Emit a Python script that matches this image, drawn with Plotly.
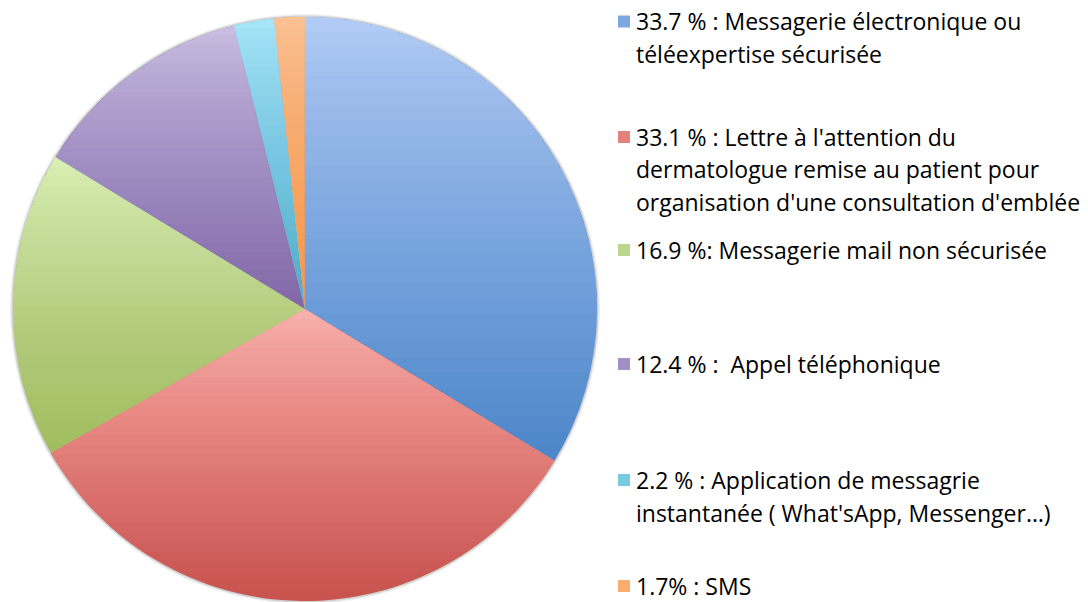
import math
import plotly.graph_objects as go

# ---------------- data ----------------
categories = ["Messagerie électronique ou téléexpertise sécurisée",
              "Lettre au patient",
              "Messagerie mail non sécurisée",
              "Appel téléphonique",
              "Application de messagerie instantanée",
              "SMS"]
values = [33.7, 33.1, 16.9, 12.4, 2.2, 1.7]
legend_labels = [
    "33.7 % : Messagerie électronique ou<br>téléexpertise sécurisée",
    "33.1 % : Lettre à l'attention du<br>dermatologue remise au patient pour<br>organisation d'une consultation d'emblée",
    "16.9 %: Messagerie mail non sécurisée",
    "12.4 % :\u00a0 Appel téléphonique",
    "2.2 % : Application de messagrie<br>instantanée ( What'sApp, Messenger…)",
    "1.7% : SMS",
]
# gradient colours (top, bottom) per slice
top_colors = ["#b0cbf6", "#f9afab", "#d9eeb2", "#c9bbe2", "#a6e4f8", "#fcc192"]
bottom_colors = ["#4a85c9", "#c8504b", "#9ebd5e", "#8064a6", "#4bacc6", "#f79646"]
legend_colors = ["#7ea6e0", "#e2807c", "#bcd690", "#a48fc4", "#79c9e0", "#f9ad6e"]

# ---------------- layout constants ----------------
OFF = 0                      # body margin removed by post_script
W, H = 1088, 602
CX, CY, R = 305.0, 309.0, 292.0          # pie centre / radius in page pixels
legend_y_px = [21.5, 137, 250, 364, 480, 586]
line_gap = 32.5
font_family = "'Open Sans', Lato, sans-serif"
font_size = 23

def px2paper(x, y):
    return (x - OFF) / W, 1 - (y - OFF) / H

fig = go.Figure()
dx0, dy0 = px2paper(CX - R, CY + R)
dx1, dy1 = px2paper(CX + R, CY - R)
fig.add_trace(go.Pie(
    labels=categories, values=values, sort=False, direction="clockwise",
    rotation=0, textinfo="none", hole=0,
    marker=dict(colors=bottom_colors, line=dict(width=0)),
    domain=dict(x=[max(0, dx0), dx1], y=[max(0, dy0), min(1, dy1)]),
    showlegend=False,
))

shapes = []
# soft shadow under the pie
for extra, alpha in [(3.0, 0.06), (1.6, 0.12)]:
    x0, y0 = px2paper(CX - R - extra, CY + R + extra)
    x1, y1 = px2paper(CX + R + extra, CY - R - extra)
    shapes.append(dict(type="circle", xref="paper", yref="paper", x0=x0, y0=y0,
                       x1=x1, y1=y1, layer="below", line=dict(width=0),
                       fillcolor=f"rgba(0,0,0,{alpha})"))

def clip_below(poly, Y):
    out = []
    n = len(poly)
    for i in range(n):
        p, q = poly[i], poly[(i + 1) % n]
        pin, qin = p[1] <= Y, q[1] <= Y
        if pin:
            out.append(p)
        if pin != qin:
            t = (Y - p[1]) / (q[1] - p[1])
            out.append((p[0] + t * (q[0] - p[0]), Y))
    return out

total = sum(values)
cum = 0.0
N = 30
for i, v in enumerate(values):
    a0 = cum / total * 360
    a1 = (cum + v) / total * 360
    cum += v
    steps = max(2, int(math.ceil((a1 - a0) / 0.75)))
    poly = [(CX, CY)]
    for s in range(steps + 1):
        th = math.radians(a0 + (a1 - a0) * s / steps)
        poly.append((CX + R * math.sin(th), CY - R * math.cos(th)))
    ys = [p[1] for p in poly]
    ytop, ybot = min(ys), max(ys)
    for j in range(N, 0, -1):
        Yj = ytop + (ybot - ytop) * j / N
        cp = clip_below(poly, Yj)
        if len(cp) < 3:
            continue
        path = "M " + " L ".join(
            "%.3f,%.5f" % px2paper(x, y) for x, y in cp) + " Z"
        shapes.append(dict(type="path", xref="paper", yref="paper", path=path,
                           layer="above", line=dict(width=0),
                           fillcolor=top_colors[i], opacity=1.0 / j))

# legend (squares + text)
annotations = []
SQ = 12
for i, lab in enumerate(legend_labels):
    yc = legend_y_px[i]
    x0, y0 = px2paper(618, yc + SQ / 2)
    x1, y1 = px2paper(618 + SQ, yc - SQ / 2)
    shapes.append(dict(type="rect", xref="paper", yref="paper", x0=x0, y0=y0,
                       x1=x1, y1=y1, line=dict(width=0),
                       fillcolor=legend_colors[i]))
    for k, line in enumerate(lab.split("<br>")):
        ax, ay = px2paper(635, yc + k * line_gap)
        annotations.append(dict(text=line, x=ax, y=ay, xref="paper", yref="paper",
                                xanchor="left", yanchor="middle", showarrow=False,
                                borderpad=0,
                                font=dict(family=font_family, size=font_size,
                                          color="#000000")))

fig.update_layout(
    width=W, height=H, autosize=False,
    margin=dict(l=0, r=0, t=0, b=0),
    paper_bgcolor="white", plot_bgcolor="white",
    showlegend=False, shapes=shapes, annotations=annotations,
)
fig.write_html(
    "out.html",
    config={"displayModeBar": False},
    post_script="document.body.style.margin='0';"
                "document.documentElement.style.overflow='hidden';",
)
